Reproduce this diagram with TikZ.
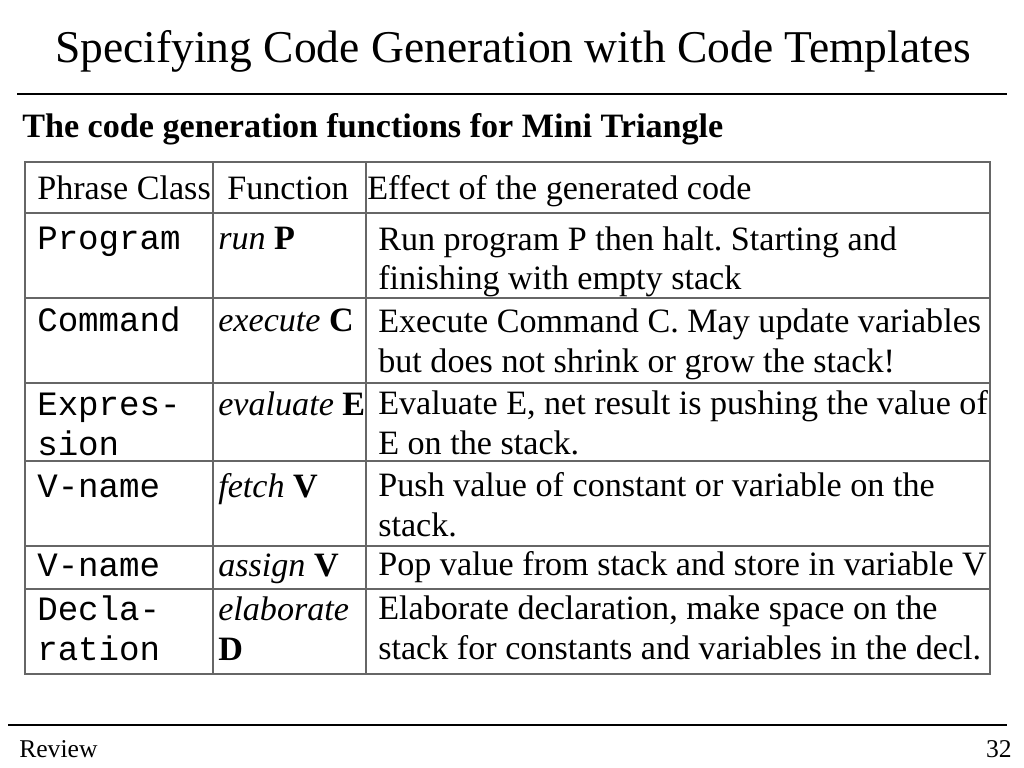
\documentclass[tikz,border=0pt]{standalone}
\usepackage{fontspec}
\setmainfont{Liberation Serif}
\setmonofont{Liberation Mono}
\frenchspacing
\tikzset{
  celltxt/.style={anchor=base west, inner sep=0pt, align=left, font=\fontsize{24}{28.1}\selectfont},
  codetxt/.style={celltxt, font=\ttfamily\fontsize{24}{28.1}\selectfont},
  gridline/.style={draw=black!60, line width=0.9pt},
  rule/.style={line width=2pt}
}
\begin{document}
\begin{tikzpicture}[x=0.703125pt, y=-0.703125pt]
\useasboundingbox[fill=white] (0,0) rectangle (1024,768);
\node[anchor=base west, inner sep=0pt, font=\fontsize{32}{38}\selectfont] (title) at (55,63) {Specifying Code Generation with Code Templates};
\draw[rule] (17,94)--(1007,94);
\node[anchor=base west, inner sep=0pt, font=\bfseries\fontsize{24}{28}\selectfont] (sub) at (22,138) {The code generation functions for Mini Triangle};
% table grid
\draw[gridline] (25,162) rectangle (990,674);
\foreach \y in {213,298,383,461,546,589} \draw[gridline] (25,\y)--(990,\y);
\foreach \x in {213,366} \draw[gridline] (\x,162)--(\x,674);
% header
\node[celltxt] (hcls) at (37,200) {Phrase Class}; \node[celltxt] (hfun) at (227,200) {Function}; \node[celltxt] (heff) at (367,200) {Effect of the generated code};
% rows (multi-line cells sit on the baseline of their last line)
\node[codetxt] (cprog) at (37,250) {Program}; \node[celltxt] (fprog) at (218,250) {\textit{run} \textbf{P}}; \node[celltxt] (eprog) at (378,290) {Run program P then halt. Starting and\\finishing with empty stack};
\node[codetxt] (ccmd) at (37,332) {Command}; \node[celltxt] (fcmd) at (218,332) {\textit{execute} \textbf{C}}; \node[celltxt] (ecmd) at (378,372) {Execute Command C. May update variables\\but does not shrink or grow the stack!};
\node[codetxt] (cexp) at (37,455) {Expres-\\sion}; \node[celltxt] (fexp) at (218,415) {\textit{evaluate} \textbf{E}}; \node[celltxt] (eexp) at (378,454) {Evaluate E, net result is pushing the value of\\E on the stack.};
\node[codetxt] (cfet) at (37,497) {V-name}; \node[celltxt] (ffet) at (218,497) {\textit{fetch} \textbf{V}}; \node[celltxt] (efet) at (378,536) {Push value of constant or variable on the\\stack.};
\node[codetxt] (cass) at (37,576) {V-name}; \node[celltxt] (fass) at (218,576) {\textit{assign} \textbf{V}}; \node[celltxt] (eass) at (378,575) {Pop value from stack and store in variable V};
\node[codetxt] (cdec) at (37,660) {Decla-\\ration}; \node[celltxt] (fdec) at (218,660) {\textit{elaborate}\\\textbf{D}}; \node[celltxt] (edec) at (378,659) {Elaborate declaration, make space on the\\stack for constants and variables in the decl.};
% footer
\draw[rule] (8,725)--(1007,725);
\node[anchor=base west, inner sep=0pt, font=\fontsize{18}{22}\selectfont] (foot) at (19,757) {Review};
\node[anchor=base east, inner sep=0pt, font=\fontsize{18}{22}\selectfont] (page) at (1012,757) {32};
\end{tikzpicture}
\end{document}
